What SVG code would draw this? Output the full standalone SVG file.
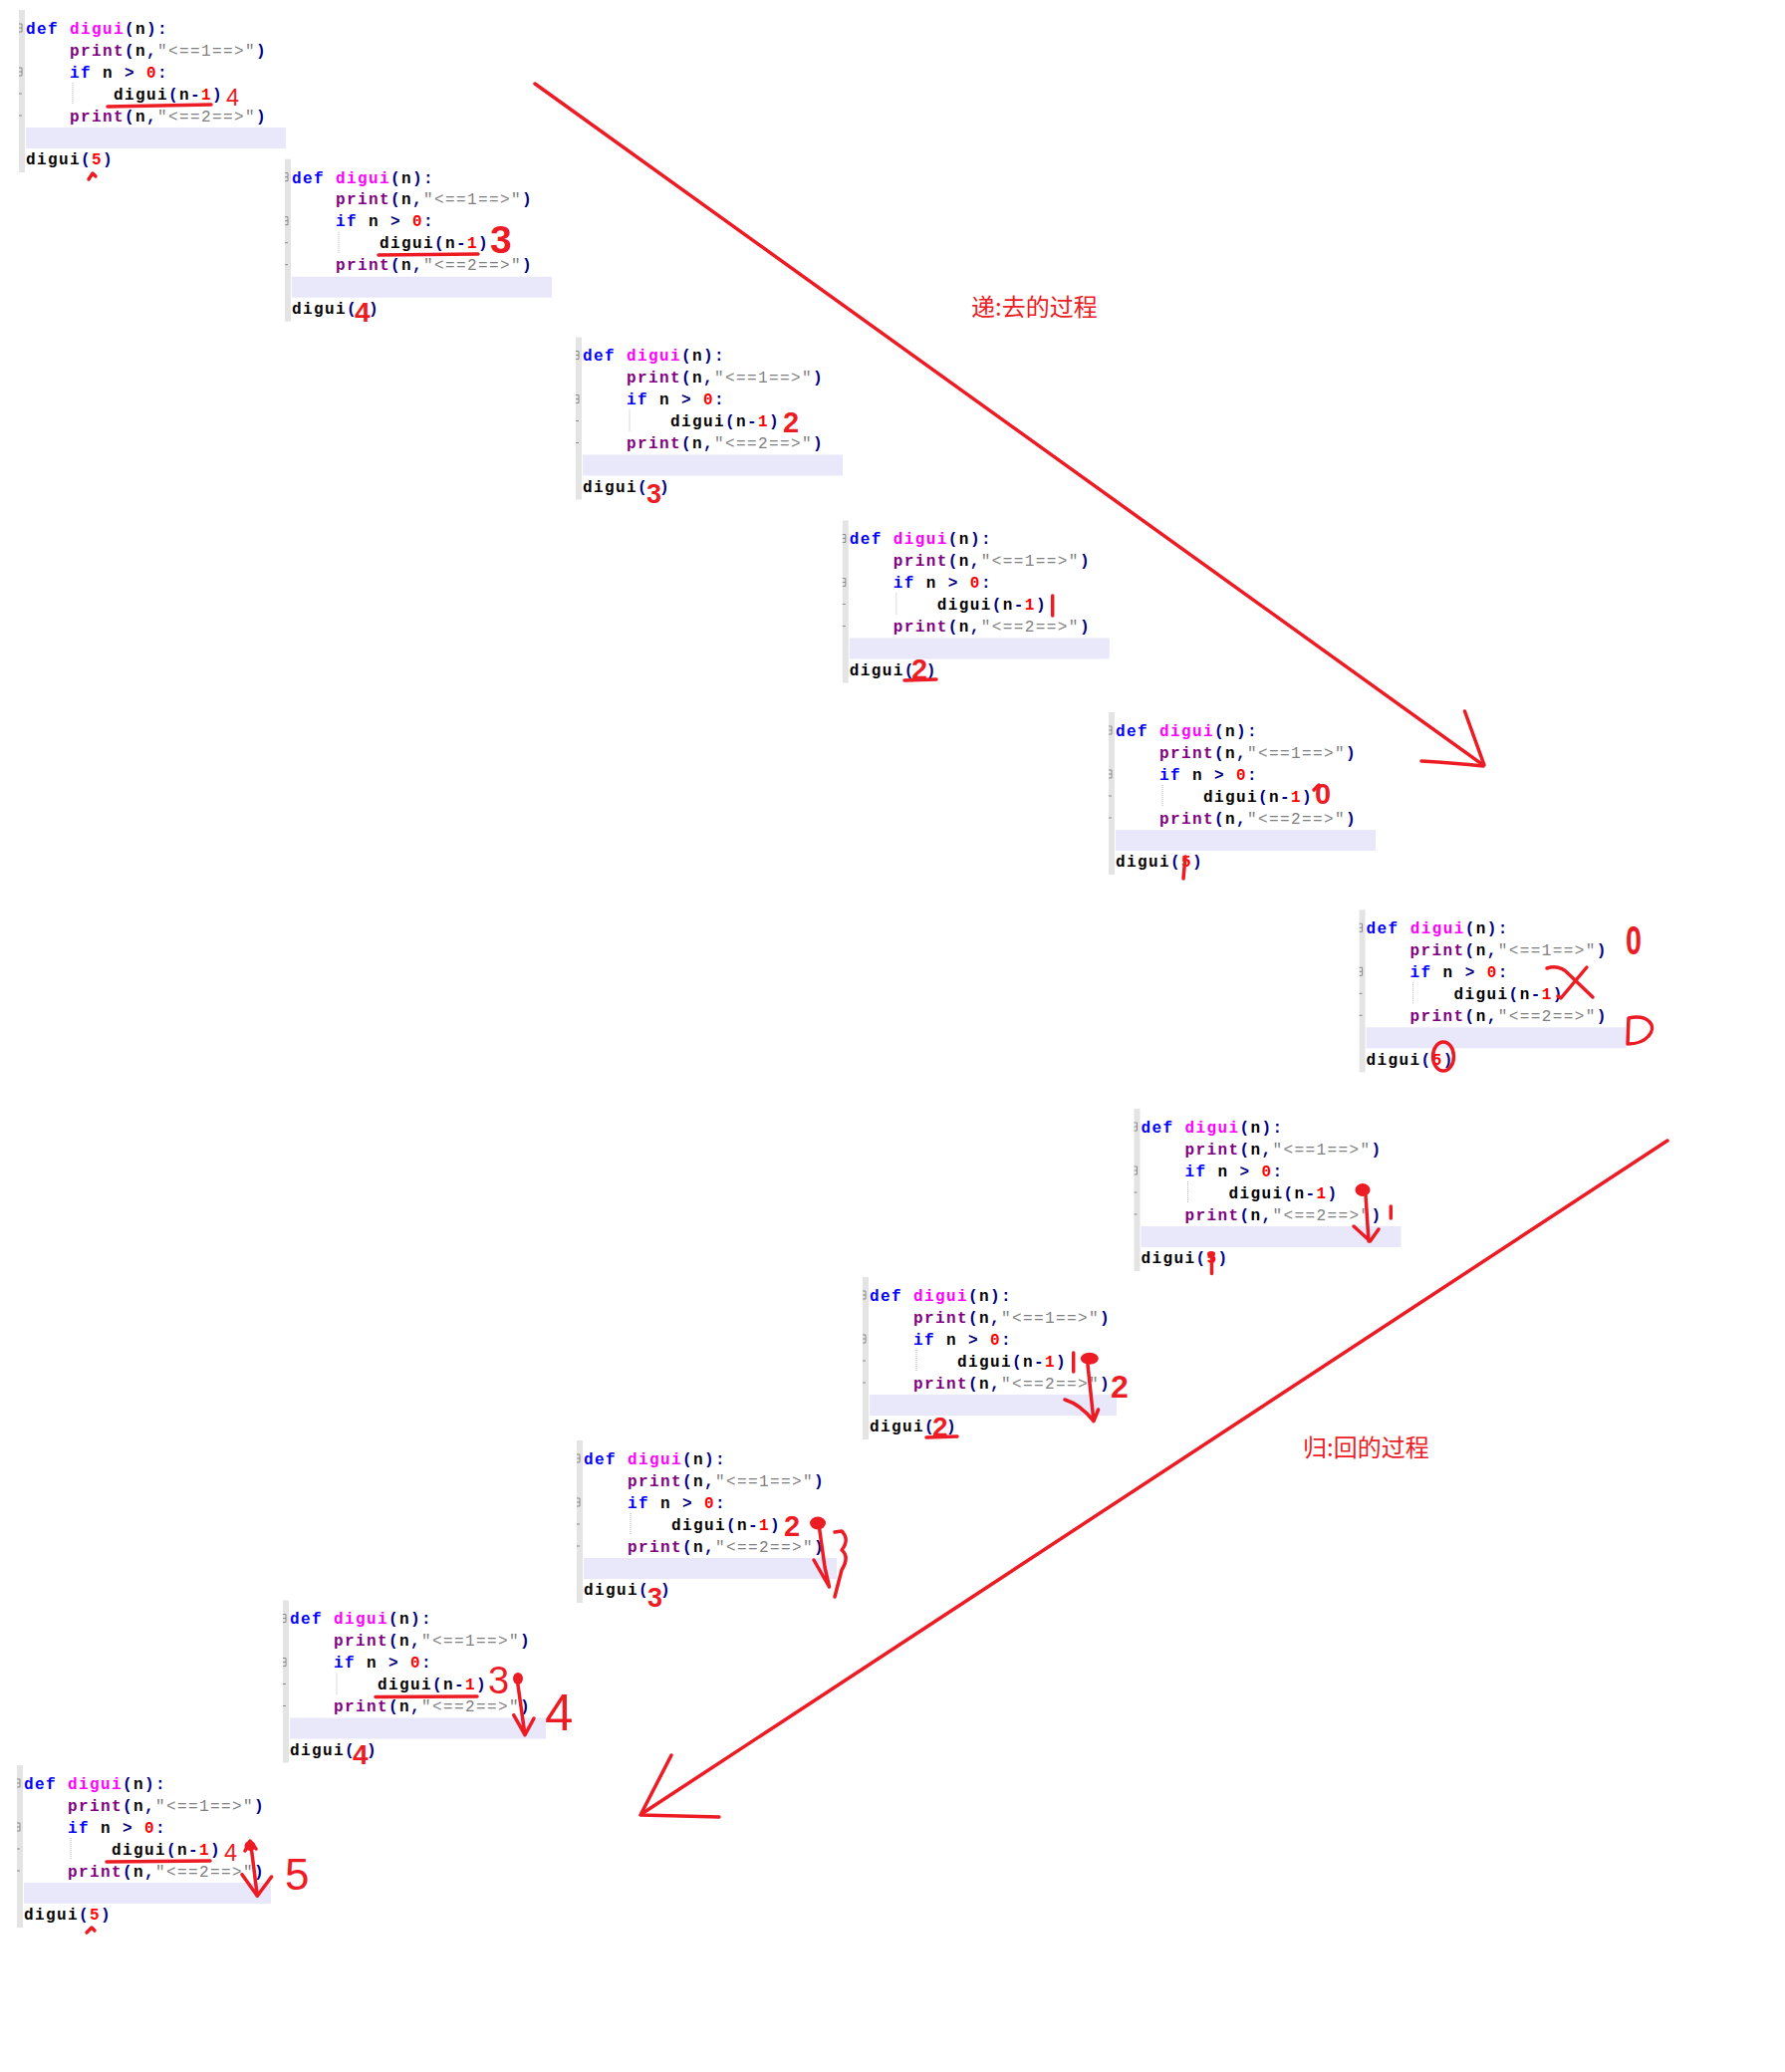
<svg xmlns="http://www.w3.org/2000/svg" width="1792" height="2080" viewBox="0 0 1792 2080">
<style>
.c{font-family:"Liberation Mono","Courier New",monospace;font-size:16px;font-weight:bold;letter-spacing:1.4px;white-space:pre;fill:#000}
.k{fill:#0000ff}.f{fill:#ff00ff}.p{fill:#800080}.o{fill:#000080}.n{fill:#ff0000}.s{fill:#808080;font-weight:normal}
.gut{fill:#e4e4e4}.mk{stroke:#8a8a8a;stroke-width:1;fill:none}.ig{stroke:#b4b4b4;stroke-width:1;stroke-dasharray:1 1}.band{fill:#e8e8fa}
.r{stroke:#ed1c24;fill:none;stroke-linecap:round;stroke-linejoin:round;stroke-width:3.5}
.rf{fill:#ed1c24}
.ht{fill:#ed1c24;font-family:"Liberation Sans",Arial,sans-serif;font-weight:normal;letter-spacing:0}
.hb{font-weight:bold}
.lbl{fill:#ed1c24;font-family:"Noto Sans CJK SC","Noto Sans",sans-serif;font-size:24px}
</style>
<rect width="1792" height="2080" fill="#fff"/>

<g id="block1">
<g transform="translate(27,28)">
<rect class="gut" x="-8" y="-18" width="6" height="163"/><path class="mk" d="M-8,-4h3v8h-3M-8,0h3M-8,40h3v8h-3M-8,44h3M-8,66h3M-8,88h3"/><line class="ig" x1="46" y1="55" x2="46" y2="77"/><rect class="band" x="-1" y="100" width="261" height="21"/>
<text class="c" x="-1" y="5.8"><tspan class="k">def</tspan> <tspan class="f">digui</tspan><tspan class="o">(</tspan>n<tspan class="o">):</tspan></text>
<text class="c" x="43" y="27.8"><tspan class="p">print</tspan><tspan class="o">(</tspan>n<tspan class="o">,</tspan><tspan class="s">"&lt;==1==&gt;"</tspan><tspan class="o">)</tspan></text>
<text class="c" x="43" y="49.8"><tspan class="k">if</tspan> n <tspan class="o">&gt;</tspan> <tspan class="n">0</tspan><tspan class="o">:</tspan></text>
<text class="c" x="87" y="71.8">digui<tspan class="o">(</tspan>n<tspan class="o">-</tspan><tspan class="n">1</tspan><tspan class="o">)</tspan><tspan class="ht" x="200" y="78" font-size="23.5">4</tspan></text>
<text class="c" x="43" y="93.8"><tspan class="p">print</tspan><tspan class="o">(</tspan>n<tspan class="o">,</tspan><tspan class="s">"&lt;==2==&gt;"</tspan><tspan class="o">)</tspan></text>
<text class="c" x="-1" y="137.4">digui<tspan class="o">(</tspan><tspan class="n">5</tspan><tspan class="o">)</tspan></text>
</g>
<path class="r" d="M108,107 L212,105"/>
<path class="r" stroke-width="2.5" d="M89,180 L93,174 L96,177"/>
</g>

<g id="block2">
<g transform="translate(294,177.7)">
<rect class="gut" x="-8" y="-18" width="6" height="163"/><path class="mk" d="M-8,-4h3v8h-3M-8,0h3M-8,40h3v8h-3M-8,44h3M-8,66h3M-8,88h3"/><line class="ig" x1="46" y1="55" x2="46" y2="77"/><rect class="band" x="-1" y="100" width="261" height="21"/>
<text class="c" x="-1" y="5.8"><tspan class="k">def</tspan> <tspan class="f">digui</tspan><tspan class="o">(</tspan>n<tspan class="o">):</tspan></text>
<text class="c" x="43" y="27.8"><tspan class="p">print</tspan><tspan class="o">(</tspan>n<tspan class="o">,</tspan><tspan class="s">"&lt;==1==&gt;"</tspan><tspan class="o">)</tspan></text>
<text class="c" x="43" y="49.8"><tspan class="k">if</tspan> n <tspan class="o">&gt;</tspan> <tspan class="n">0</tspan><tspan class="o">:</tspan></text>
<text class="c" x="87" y="71.8">digui<tspan class="o">(</tspan>n<tspan class="o">-</tspan><tspan class="n">1</tspan><tspan class="o">)</tspan><tspan class="ht hb" x="198" y="76.3" font-size="39">3</tspan></text>
<text class="c" x="43" y="93.8"><tspan class="p">print</tspan><tspan class="o">(</tspan>n<tspan class="o">,</tspan><tspan class="s">"&lt;==2==&gt;"</tspan><tspan class="o">)</tspan></text>
<text class="c" x="-1" y="137.4">digui<tspan class="o">(</tspan><tspan class="ht hb" x="62" y="145" font-size="28">4</tspan><tspan class="o" x="76" y="137.4">)</tspan></text>
</g>
<path class="r" d="M380,256 L480,255"/>
</g>

<g id="block3">
<g transform="translate(586,356.5)">
<rect class="gut" x="-8" y="-18" width="6" height="163"/><path class="mk" d="M-8,-4h3v8h-3M-8,0h3M-8,40h3v8h-3M-8,44h3M-8,66h3M-8,88h3"/><line class="ig" x1="46" y1="55" x2="46" y2="77"/><rect class="band" x="-1" y="100" width="261" height="21"/>
<text class="c" x="-1" y="5.8"><tspan class="k">def</tspan> <tspan class="f">digui</tspan><tspan class="o">(</tspan>n<tspan class="o">):</tspan></text>
<text class="c" x="43" y="27.8"><tspan class="p">print</tspan><tspan class="o">(</tspan>n<tspan class="o">,</tspan><tspan class="s">"&lt;==1==&gt;"</tspan><tspan class="o">)</tspan></text>
<text class="c" x="43" y="49.8"><tspan class="k">if</tspan> n <tspan class="o">&gt;</tspan> <tspan class="n">0</tspan><tspan class="o">:</tspan></text>
<text class="c" x="87" y="71.8">digui<tspan class="o">(</tspan>n<tspan class="o">-</tspan><tspan class="n">1</tspan><tspan class="o">)</tspan><tspan class="ht hb" x="200" y="77.5" font-size="29">2</tspan></text>
<text class="c" x="43" y="93.8"><tspan class="p">print</tspan><tspan class="o">(</tspan>n<tspan class="o">,</tspan><tspan class="s">"&lt;==2==&gt;"</tspan><tspan class="o">)</tspan></text>
<text class="c" x="-1" y="137.4">digui<tspan class="o">(</tspan><tspan class="ht hb" x="63" y="148.5" font-size="27">3</tspan><tspan class="o" x="76" y="137.4">)</tspan></text>
</g>
</g>

<g id="block4">
<g transform="translate(853.8,540.5)">
<rect class="gut" x="-8" y="-18" width="6" height="163"/><path class="mk" d="M-8,-4h3v8h-3M-8,0h3M-8,40h3v8h-3M-8,44h3M-8,66h3M-8,88h3"/><line class="ig" x1="46" y1="55" x2="46" y2="77"/><rect class="band" x="-1" y="100" width="261" height="21"/>
<text class="c" x="-1" y="5.8"><tspan class="k">def</tspan> <tspan class="f">digui</tspan><tspan class="o">(</tspan>n<tspan class="o">):</tspan></text>
<text class="c" x="43" y="27.8"><tspan class="p">print</tspan><tspan class="o">(</tspan>n<tspan class="o">,</tspan><tspan class="s">"&lt;==1==&gt;"</tspan><tspan class="o">)</tspan></text>
<text class="c" x="43" y="49.8"><tspan class="k">if</tspan> n <tspan class="o">&gt;</tspan> <tspan class="n">0</tspan><tspan class="o">:</tspan></text>
<text class="c" x="87" y="71.8">digui<tspan class="o">(</tspan>n<tspan class="o">-</tspan><tspan class="n">1</tspan><tspan class="o">)</tspan></text>
<text class="c" x="43" y="93.8"><tspan class="p">print</tspan><tspan class="o">(</tspan>n<tspan class="o">,</tspan><tspan class="s">"&lt;==2==&gt;"</tspan><tspan class="o">)</tspan></text>
<text class="c" x="-1" y="137.4">digui<tspan class="o">(</tspan><tspan class="ht hb" x="61.2" y="141.5" font-size="29">2</tspan><tspan class="o" x="76" y="137.4">)</tspan></text>
</g>
<path class="r" stroke-width="4" d="M1056.7,598 L1056.7,618"/>
<path class="r" d="M908,683 L940,682"/>
</g>

<g id="block5">
<g transform="translate(1121,733)">
<rect class="gut" x="-8" y="-18" width="6" height="163"/><path class="mk" d="M-8,-4h3v8h-3M-8,0h3M-8,40h3v8h-3M-8,44h3M-8,66h3M-8,88h3"/><line class="ig" x1="46" y1="55" x2="46" y2="77"/><rect class="band" x="-1" y="100" width="261" height="21"/>
<text class="c" x="-1" y="5.8"><tspan class="k">def</tspan> <tspan class="f">digui</tspan><tspan class="o">(</tspan>n<tspan class="o">):</tspan></text>
<text class="c" x="43" y="27.8"><tspan class="p">print</tspan><tspan class="o">(</tspan>n<tspan class="o">,</tspan><tspan class="s">"&lt;==1==&gt;"</tspan><tspan class="o">)</tspan></text>
<text class="c" x="43" y="49.8"><tspan class="k">if</tspan> n <tspan class="o">&gt;</tspan> <tspan class="n">0</tspan><tspan class="o">:</tspan></text>
<text class="c" x="87" y="71.8">digui<tspan class="o">(</tspan>n<tspan class="o">-</tspan><tspan class="n">1</tspan><tspan class="o">)</tspan><tspan class="ht hb" x="199" y="74" font-size="29">0</tspan></text>
<text class="c" x="43" y="93.8"><tspan class="p">print</tspan><tspan class="o">(</tspan>n<tspan class="o">,</tspan><tspan class="s">"&lt;==2==&gt;"</tspan><tspan class="o">)</tspan></text>
<text class="c" x="-1" y="137.4">digui<tspan class="o">(</tspan><tspan class="n">5</tspan><tspan class="o">)</tspan></text>
</g>
<path class="r" stroke-width="3" d="M1319,793 L1324,788"/>
<path class="r" stroke-width="4.5" d="M1190,860 L1188,882"/>
</g>

<g id="block6">
<g transform="translate(1372.6,931.3)">
<rect class="gut" x="-8" y="-18" width="6" height="163"/><path class="mk" d="M-8,-4h3v8h-3M-8,0h3M-8,40h3v8h-3M-8,44h3M-8,66h3M-8,88h3"/><line class="ig" x1="46" y1="55" x2="46" y2="77"/><rect class="band" x="-1" y="100" width="261" height="21"/>
<text class="c" x="-1" y="5.8"><tspan class="k">def</tspan> <tspan class="f">digui</tspan><tspan class="o">(</tspan>n<tspan class="o">):</tspan></text>
<text class="c" x="43" y="27.8"><tspan class="p">print</tspan><tspan class="o">(</tspan>n<tspan class="o">,</tspan><tspan class="s">"&lt;==1==&gt;"</tspan><tspan class="o">)</tspan></text>
<text class="c" x="43" y="49.8"><tspan class="k">if</tspan> n <tspan class="o">&gt;</tspan> <tspan class="n">0</tspan><tspan class="o">:</tspan></text>
<text class="c" x="87" y="71.8">digui<tspan class="o">(</tspan>n<tspan class="o">-</tspan><tspan class="n">1</tspan><tspan class="o">)</tspan></text>
<text class="c" x="43" y="93.8"><tspan class="p">print</tspan><tspan class="o">(</tspan>n<tspan class="o">,</tspan><tspan class="s">"&lt;==2==&gt;"</tspan><tspan class="o">)</tspan></text>
<text class="c" x="-1" y="137.4">digui<tspan class="o">(</tspan><tspan class="n">5</tspan><tspan class="o">)</tspan></text>
</g>
<text class="ht hb" x="1632" y="958" font-size="40" textLength="16" lengthAdjust="spacingAndGlyphs">0</text>
<path class="r" d="M1553,972 Q1566,968 1575,978 L1599,1001"/>
<path class="r" d="M1593,971 L1567,1002 L1564,1000"/>
<path class="r" stroke-width="4" d="M1635,1022 L1634,1048 M1635,1022 C1655,1018 1664,1030 1655,1040 C1650,1046 1642,1048 1634,1048"/>
<ellipse class="r" cx="1449" cy="1060.5" rx="10.5" ry="14.5"/>
</g>

<g id="block7">
<g transform="translate(1146.5,1131)">
<rect class="gut" x="-8" y="-18" width="6" height="163"/><path class="mk" d="M-8,-4h3v8h-3M-8,0h3M-8,40h3v8h-3M-8,44h3M-8,66h3M-8,88h3"/><line class="ig" x1="46" y1="55" x2="46" y2="77"/><rect class="band" x="-1" y="100" width="261" height="21"/>
<text class="c" x="-1" y="5.8"><tspan class="k">def</tspan> <tspan class="f">digui</tspan><tspan class="o">(</tspan>n<tspan class="o">):</tspan></text>
<text class="c" x="43" y="27.8"><tspan class="p">print</tspan><tspan class="o">(</tspan>n<tspan class="o">,</tspan><tspan class="s">"&lt;==1==&gt;"</tspan><tspan class="o">)</tspan></text>
<text class="c" x="43" y="49.8"><tspan class="k">if</tspan> n <tspan class="o">&gt;</tspan> <tspan class="n">0</tspan><tspan class="o">:</tspan></text>
<text class="c" x="87" y="71.8">digui<tspan class="o">(</tspan>n<tspan class="o">-</tspan><tspan class="n">1</tspan><tspan class="o">)</tspan></text>
<text class="c" x="43" y="93.8"><tspan class="p">print</tspan><tspan class="o">(</tspan>n<tspan class="o">,</tspan><tspan class="s">"&lt;==2==&gt;"</tspan><tspan class="o">)</tspan></text>
<text class="c" x="-1" y="137.4">digui<tspan class="o">(</tspan><tspan class="n">5</tspan><tspan class="o">)</tspan></text>
</g>
<ellipse class="rf" cx="1368" cy="1194.5" rx="7.5" ry="6.5"/>
<path class="r" d="M1371,1200 L1374,1246 M1359,1231 L1375.5,1246 L1384,1234"/>
<path class="r" d="M1396.3,1211 L1396.3,1223"/>
<path class="r" stroke-width="4" d="M1216.5,1258 L1216.5,1278.5"/>
<ellipse class="rf" cx="1216" cy="1259" rx="4" ry="3"/>
</g>

<g id="block8">
<g transform="translate(874,1300)">
<rect class="gut" x="-8" y="-18" width="6" height="163"/><path class="mk" d="M-8,-4h3v8h-3M-8,0h3M-8,40h3v8h-3M-8,44h3M-8,66h3M-8,88h3"/><line class="ig" x1="46" y1="55" x2="46" y2="77"/><rect class="band" x="-1" y="100" width="248" height="21"/>
<text class="c" x="-1" y="5.8"><tspan class="k">def</tspan> <tspan class="f">digui</tspan><tspan class="o">(</tspan>n<tspan class="o">):</tspan></text>
<text class="c" x="43" y="27.8"><tspan class="p">print</tspan><tspan class="o">(</tspan>n<tspan class="o">,</tspan><tspan class="s">"&lt;==1==&gt;"</tspan><tspan class="o">)</tspan></text>
<text class="c" x="43" y="49.8"><tspan class="k">if</tspan> n <tspan class="o">&gt;</tspan> <tspan class="n">0</tspan><tspan class="o">:</tspan></text>
<text class="c" x="87" y="71.8">digui<tspan class="o">(</tspan>n<tspan class="o">-</tspan><tspan class="n">1</tspan><tspan class="o">)</tspan></text>
<text class="c" x="43" y="93.8"><tspan class="p">print</tspan><tspan class="o">(</tspan>n<tspan class="o">,</tspan><tspan class="s">"&lt;==2==&gt;"</tspan><tspan class="o">)</tspan><tspan class="ht hb" x="241" y="103" font-size="32">2</tspan></text>
<text class="c" x="-1" y="137.4">digui<tspan class="o">(</tspan><tspan class="ht hb" x="62" y="142" font-size="28">2</tspan><tspan class="o" x="76" y="137.4">)</tspan></text>
</g>
<path class="r" stroke-width="4.5" d="M1077.7,1358 L1077.7,1377"/>
<ellipse class="rf" cx="1093.8" cy="1363.8" rx="9" ry="6"/>
<path class="r" d="M1092,1370 L1098,1426.7 M1069,1405 Q1085,1410 1098,1426.7 L1102.6,1415"/>
<path class="r" d="M930,1443 L961,1442"/>
</g>

<g id="block9">
<g transform="translate(587,1464)">
<rect class="gut" x="-8" y="-18" width="6" height="163"/><path class="mk" d="M-8,-4h3v8h-3M-8,0h3M-8,40h3v8h-3M-8,44h3M-8,66h3M-8,88h3"/><line class="ig" x1="46" y1="55" x2="46" y2="77"/><rect class="band" x="-1" y="100" width="254" height="21"/>
<text class="c" x="-1" y="5.8"><tspan class="k">def</tspan> <tspan class="f">digui</tspan><tspan class="o">(</tspan>n<tspan class="o">):</tspan></text>
<text class="c" x="43" y="27.8"><tspan class="p">print</tspan><tspan class="o">(</tspan>n<tspan class="o">,</tspan><tspan class="s">"&lt;==1==&gt;"</tspan><tspan class="o">)</tspan></text>
<text class="c" x="43" y="49.8"><tspan class="k">if</tspan> n <tspan class="o">&gt;</tspan> <tspan class="n">0</tspan><tspan class="o">:</tspan></text>
<text class="c" x="87" y="71.8">digui<tspan class="o">(</tspan>n<tspan class="o">-</tspan><tspan class="n">1</tspan><tspan class="o">)</tspan><tspan class="ht hb" x="200" y="77.5" font-size="29">2</tspan></text>
<text class="c" x="43" y="93.8"><tspan class="p">print</tspan><tspan class="o">(</tspan>n<tspan class="o">,</tspan><tspan class="s">"&lt;==2==&gt;"</tspan><tspan class="o">)</tspan></text>
<text class="c" x="-1" y="137.4">digui<tspan class="o">(</tspan><tspan class="ht hb" x="63" y="148.5" font-size="27">3</tspan><tspan class="o" x="76" y="137.4">)</tspan></text>
</g>
<ellipse class="rf" cx="821" cy="1529" rx="8" ry="6.5"/>
<path class="r" d="M822,1530 L828,1573 L832.5,1593 M817,1566 L832.5,1593"/>
<path class="r" d="M838,1538 L845,1537 C851,1543 850,1550 845,1556 C851,1561 850,1568 845,1576 L838,1603"/>
</g>

<g id="block10">
<g transform="translate(292,1624.5)">
<rect class="gut" x="-8" y="-18" width="6" height="163"/><path class="mk" d="M-8,-4h3v8h-3M-8,0h3M-8,40h3v8h-3M-8,44h3M-8,66h3M-8,88h3"/><line class="ig" x1="46" y1="55" x2="46" y2="77"/><rect class="band" x="-1" y="100" width="257" height="21"/>
<text class="c" x="-1" y="5.8"><tspan class="k">def</tspan> <tspan class="f">digui</tspan><tspan class="o">(</tspan>n<tspan class="o">):</tspan></text>
<text class="c" x="43" y="27.8"><tspan class="p">print</tspan><tspan class="o">(</tspan>n<tspan class="o">,</tspan><tspan class="s">"&lt;==1==&gt;"</tspan><tspan class="o">)</tspan></text>
<text class="c" x="43" y="49.8"><tspan class="k">if</tspan> n <tspan class="o">&gt;</tspan> <tspan class="n">0</tspan><tspan class="o">:</tspan></text>
<text class="c" x="87" y="71.8">digui<tspan class="o">(</tspan>n<tspan class="o">-</tspan><tspan class="n">1</tspan><tspan class="o">)</tspan><tspan class="ht" x="198" y="75.5" font-size="38">3</tspan></text>
<text class="c" x="43" y="93.8"><tspan class="p">print</tspan><tspan class="o">(</tspan>n<tspan class="o">,</tspan><tspan class="s">"&lt;==2==&gt;"</tspan><tspan class="o">)</tspan></text>
<text class="c" x="-1" y="137.4">digui<tspan class="o">(</tspan><tspan class="ht hb" x="62" y="146.5" font-size="28">4</tspan><tspan class="o" x="76" y="137.4">)</tspan></text>
</g>
<path class="r" d="M377,1703.5 L479,1703"/>
<ellipse class="rf" cx="520" cy="1685" rx="5" ry="6"/>
<path class="r" d="M519.5,1688 L527,1741.7 M515.7,1721.7 L527,1741.7 L536,1725"/>
<text class="ht" x="547" y="1736.7" font-size="51">4</text>
</g>

<g id="block11">
<g transform="translate(25,1790)">
<rect class="gut" x="-8" y="-18" width="6" height="163"/><path class="mk" d="M-8,-4h3v8h-3M-8,0h3M-8,40h3v8h-3M-8,44h3M-8,66h3M-8,88h3"/><line class="ig" x1="46" y1="55" x2="46" y2="77"/><rect class="band" x="-1" y="100" width="248" height="21"/>
<text class="c" x="-1" y="5.8"><tspan class="k">def</tspan> <tspan class="f">digui</tspan><tspan class="o">(</tspan>n<tspan class="o">):</tspan></text>
<text class="c" x="43" y="27.8"><tspan class="p">print</tspan><tspan class="o">(</tspan>n<tspan class="o">,</tspan><tspan class="s">"&lt;==1==&gt;"</tspan><tspan class="o">)</tspan></text>
<text class="c" x="43" y="49.8"><tspan class="k">if</tspan> n <tspan class="o">&gt;</tspan> <tspan class="n">0</tspan><tspan class="o">:</tspan></text>
<text class="c" x="87" y="71.8">digui<tspan class="o">(</tspan>n<tspan class="o">-</tspan><tspan class="n">1</tspan><tspan class="o">)</tspan><tspan class="ht" x="200" y="78" font-size="23.5">4</tspan></text>
<text class="c" x="43" y="93.8"><tspan class="p">print</tspan><tspan class="o">(</tspan>n<tspan class="o">,</tspan><tspan class="s">"&lt;==2==&gt;"</tspan><tspan class="o">)</tspan></text>
<text class="c" x="-1" y="137.4">digui<tspan class="o">(</tspan><tspan class="n">5</tspan><tspan class="o">)</tspan></text>
</g>
<path class="r" d="M107,1869 L211,1868"/>
<ellipse class="rf" cx="251" cy="1853" rx="5.5" ry="5"/>
<path class="r" d="M246,1858 L251,1848 L257,1856 M252.5,1856.7 L258.3,1903.3 M243,1881.7 L258.3,1903.3 L272.6,1884"/>
<text class="ht" x="286" y="1896.7" font-size="44">5</text>
<path class="r" stroke-width="2.5" d="M87,1940 L92,1935 L95,1938"/>
</g>

<g id="connectors">
<path class="r" stroke-width="4" d="M537,84 L1489,768"/>
<path class="r" stroke-width="4.5" d="M1470.5,714 L1490,768 M1427,764 Q1460,766 1489,769"/>
<path class="r" stroke-width="4" d="M1674,1145 L644,1821"/>
<path class="r" stroke-width="4.5" d="M674,1762 L643,1822 L722,1824"/>
</g>

<g id="label-down">
<text class="lbl" x="975" y="317">递:去的过程</text>
</g>
<g id="label-up">
<text class="lbl" x="1308" y="1461.5">归:回的过程</text>
</g>
</svg>
